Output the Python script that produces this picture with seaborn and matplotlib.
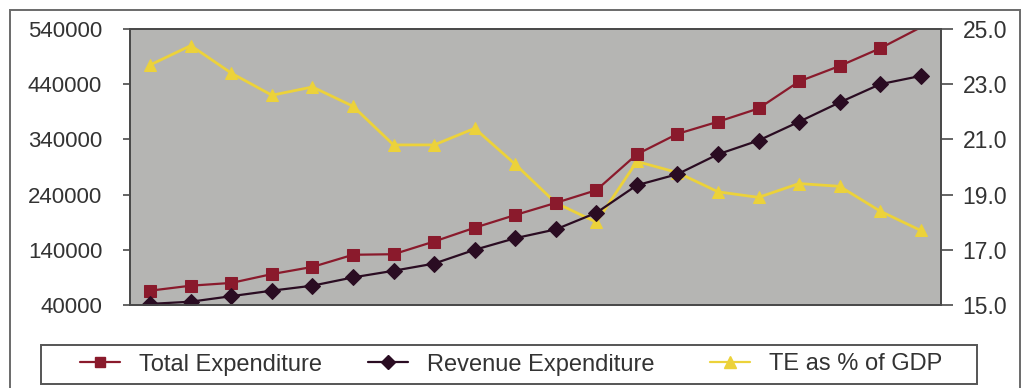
import matplotlib
matplotlib.use("Agg")
import matplotlib.pyplot as plt
import seaborn as sns
import pandas as pd
from matplotlib.patches import Rectangle
from matplotlib.lines import Line2D

# ---------------- data ----------------
periods = list(range(20))
total_expenditure = [66000, 75000, 80000, 96000, 109000, 131000, 132000, 155000,
                     180000, 203000, 225000, 248000, 313000, 350000, 372000, 396000,
                     445000, 473000, 505000, 543000]
revenue_expenditure = [42000, 46000, 56000, 66000, 75000, 90000, 102000, 115000,
                       140000, 161000, 177000, 207000, 257000, 277000, 313000, 338000,
                       372000, 407000, 440000, 455000]
te_pct_gdp = [23.7, 24.4, 23.4, 22.6, 22.9, 22.2, 20.8, 20.8, 21.4, 20.1,
              18.7, 18.0, 20.2, 19.8, 19.1, 18.9, 19.4, 19.3, 18.4, 17.7]
left_ticks = [40000, 140000, 240000, 340000, 440000, 540000]
right_ticks = [15.0, 17.0, 19.0, 21.0, 23.0, 25.0]
series_names = ["Total Expenditure", "Revenue Expenditure", "TE as % of GDP"]

df = pd.DataFrame({"period": periods, "total": total_expenditure,
                   "revenue": revenue_expenditure, "te": te_pct_gdp})

# ---------------- style ----------------
sns.set_style("white")
plt.rcParams["font.family"] = ["Liberation Sans", "DejaVu Sans"]

W, H = 1025, 388
fig = plt.figure(figsize=(W / 100, H / 100), dpi=100)

RED = "#8a1a2c"
DARK = "#2a0c22"
YELLOW = "#ecd23a"
BG = "#b5b5b3"
TXT = "#333333"
EDGE = "#4a4a4a"

left, right, top, bottom = 130, 941, 29, 305
ax2 = fig.add_axes([left / W, (H - bottom) / H, (right - left) / W, (bottom - top) / H])
ax = ax2.twinx()  # placeholder to get shared x; swap roles below
# ax2: right axis (yellow, gray background); ax: left axis drawn on top
ax.yaxis.tick_left()
ax.yaxis.set_label_position("left")
ax2.yaxis.tick_right()
ax2.yaxis.set_label_position("right")
ax.set_zorder(ax2.get_zorder() + 1)
ax.patch.set_visible(False)
ax2.set_facecolor(BG)

# Yellow series (right axis)
sns.lineplot(data=df, x="period", y="te", ax=ax2, color=YELLOW, linewidth=2.0,
             marker="^", markersize=9, markeredgecolor=YELLOW, markerfacecolor=YELLOW,
             label=None, legend=False)

ymax_left = left_ticks[-1]
vis_total = [i for i, v in enumerate(total_expenditure) if v <= ymax_left]
sns.lineplot(data=df, x="period", y="total", ax=ax, color=RED, linewidth=1.6,
             marker="s", markersize=8.5, markeredgecolor=RED, markerfacecolor=RED,
             markevery=vis_total, legend=False)
sns.lineplot(data=df, x="period", y="revenue", ax=ax, color=DARK, linewidth=1.6,
             marker="D", markersize=7.8, markeredgecolor=DARK, markerfacecolor=DARK,
             legend=False)

for a in (ax, ax2):
    a.set_xlim(-0.5, len(periods) - 0.5)
    a.set_xlabel("")
    a.set_ylabel("")
    a.set_xticks([])
    for s in a.spines.values():
        s.set_color(EDGE)
        s.set_linewidth(1.3)
        s.set_visible(True)

ax.set_ylim(left_ticks[0], left_ticks[-1])
ax.set_yticks(left_ticks)
ax.set_yticklabels([str(t) for t in left_ticks])
ax.tick_params(axis="y", direction="out", length=5, width=1.2, color=EDGE,
               labelsize=16, labelcolor=TXT, pad=15, left=True, right=False)

ax2.set_ylim(right_ticks[0], right_ticks[-1])
ax2.set_yticks(right_ticks)
ax2.set_yticklabels([f"{t:.1f}" for t in right_ticks])
ax2.tick_params(axis="y", direction="out", length=8.5, width=1.2, color=EDGE,
                labelsize=16.5, labelcolor=TXT, pad=7, right=True, left=False)
ax.tick_params(axis="x", bottom=False, top=False)
ax2.tick_params(axis="x", bottom=False, top=False)

# ---------------- outer chart border ----------------
fig.add_artist(Rectangle((10 / W, -0.2), 1010 / W, (H - 10) / H + 0.2,
                         transform=fig.transFigure, fill=False,
                         edgecolor="#6a6a6a", linewidth=1.4, clip_on=False))

# ---------------- legend ----------------
lx0, lx1, ly0, ly1 = 41, 977, 345, 384
fig.add_artist(Rectangle((lx0 / W, (H - ly1) / H), (lx1 - lx0) / W, (ly1 - ly0) / H,
                         transform=fig.transFigure, fill=False,
                         edgecolor="#555555", linewidth=1.4))
handles = [
    Line2D([], [], color=RED, linewidth=1.6, marker="s", markersize=7.5,
           markerfacecolor=RED, markeredgecolor=RED),
    Line2D([], [], color=DARK, linewidth=1.6, marker="D", markersize=7,
           markerfacecolor=DARK, markeredgecolor=DARK),
    Line2D([], [], color=YELLOW, linewidth=1.6, marker="^", markersize=8,
           markerfacecolor=YELLOW, markeredgecolor=YELLOW),
]
handle_starts = [80, 368, 710]
ycen = (H - (ly0 + ly1) / 2) / H
for h, name, xs in zip(handles, series_names, handle_starts):
    leg = fig.legend([h], [name], loc="center left", bbox_to_anchor=(xs / W, ycen),
                     frameon=False, borderpad=0, borderaxespad=0,
                     handlelength=1.7, handletextpad=0.8, fontsize=17)
    for t in leg.get_texts():
        t.set_color(TXT)

fig.savefig("out.png", dpi=100)
